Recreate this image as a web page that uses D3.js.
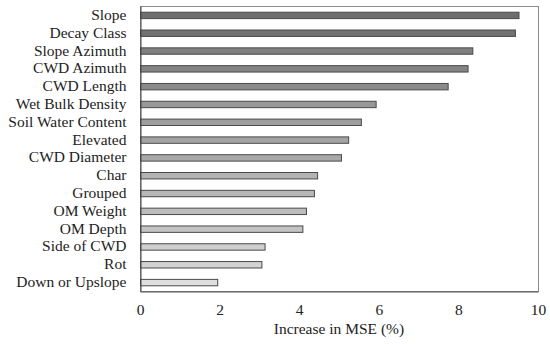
<!DOCTYPE html>
<html>
<head>
<meta charset="utf-8">
<script src="https://cdn.jsdelivr.net/npm/d3@7"></script>
<style>
  body { margin: 0; background: #fff; }
</style>
</head>
<body>
<div id="chart"></div>
<script>
const variables = ['Slope', 'Decay Class', 'Slope Azimuth', 'CWD Azimuth', 'CWD Length',
  'Wet Bulk Density', 'Soil Water Content', 'Elevated', 'CWD Diameter', 'Char',
  'Grouped', 'OM Weight', 'OM Depth', 'Side of CWD', 'Rot', 'Down or Upslope']
const mseIncrease = [9.51, 9.42, 8.35, 8.23, 7.73, 5.92, 5.55, 5.23, 5.05, 4.45,
  4.37, 4.17, 4.08, 3.13, 3.05, 1.94]
const xTicks = [0, 2, 4, 6, 8, 10]

// grey ramp, darkest for the top bar
const greys = ['#6e6e6e', '#727272', '#808080', '#848484', '#8a8a8a', '#989898',
  '#9e9e9e', '#a4a4a4', '#a8a8a8', '#b3b3b3', '#b7b7b7', '#bcbcbc', '#c3c3c3',
  '#cfcfcf', '#d3d3d3', '#dfdfdf']

const font = "'Liberation Serif', 'Times New Roman', serif"
const width = 550, height = 344
const margin = { left: 140, right: 12, top: 6, bottom: 53 }

const data = variables.map((v, i) => ({ name: v, value: mseIncrease[i] }))

const svg = d3.select('#chart')
  .append('svg')
  .attr('width', width)
  .attr('height', height)
  .attr('font-family', font)

const x = d3.scaleLinear().domain([0, 10]).range([margin.left, width - margin.right])
const y = d3.scaleBand().domain(variables).range([margin.top, height - margin.bottom]).paddingInner(0.64).paddingOuter(0.32)
const color = d3.scaleOrdinal().domain(variables).range(greys)

// frame
svg.append('rect')
  .attr('x', margin.left + 0.5)
  .attr('y', margin.top + 0.5)
  .attr('width', width - margin.right - margin.left)
  .attr('height', height - margin.bottom - margin.top)
  .attr('fill', 'none')
  .attr('stroke', '#8c8c8c')

svg.append('g')
  .selectAll('rect')
  .data(data)
  .join('rect')
  .attr('x', x(0) + 0.5)
  .attr('y', d => y(d.name) + 0.5)
  .attr('width', d => x(d.value) - x(0))
  .attr('height', y.bandwidth())
  .attr('fill', d => color(d.name))
  .attr('stroke', '#4a4a4a')
  .attr('stroke-width', 1)

// left + bottom axis lines are darker than the frame
svg.append('g')
  .attr('transform', `translate(0,${height - margin.bottom + 0.5})`)
  .call(d3.axisBottom(x).tickValues(xTicks).tickSize(0).tickPadding(12))
  .attr('font-family', font)
  .attr('font-size', 15.5)
  .call(g => g.select('.domain').attr('stroke', '#555'))
  .call(g => g.selectAll('text').attr('fill', '#222'))

svg.append('g')
  .attr('transform', `translate(${margin.left + 0.5},0)`)
  .call(d3.axisLeft(y).tickSize(0).tickPadding(14))
  .attr('font-family', font)
  .attr('font-size', 15.5)
  .call(g => g.select('.domain').attr('stroke', '#444'))
  .call(g => g.selectAll('text').attr('fill', '#222'))

svg.append('text')
  .attr('x', (x(0) + x(10)) / 2)
  .attr('y', 334)
  .attr('text-anchor', 'middle')
  .attr('font-size', 15.5)
  .attr('fill', '#222')
  .text('Increase in MSE (%)')
</script>
</body>
</html>
